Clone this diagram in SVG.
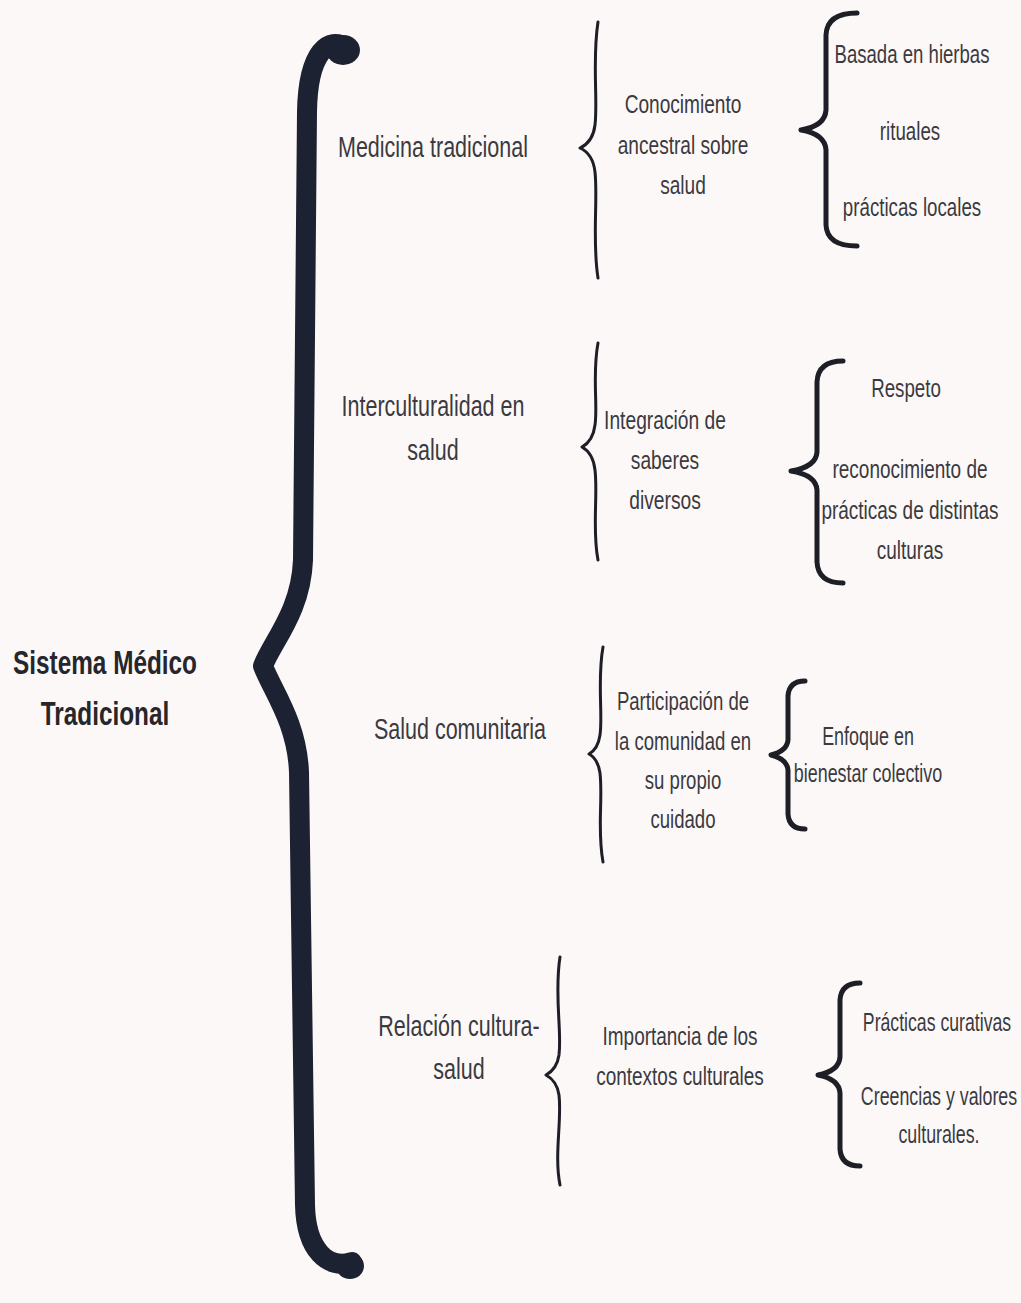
<svg xmlns="http://www.w3.org/2000/svg" width="1021" height="1303" viewBox="0 0 1021 1303">
<style>
text{font-family:"Liberation Sans",Arial,sans-serif;fill:#3a3a3f;text-anchor:middle}
.t{font-size:34px;font-weight:bold;fill:#26262c}
.l1{font-size:30px}
.l2{font-size:26px}
.big{fill:none;stroke:#1c2232;stroke-width:20;stroke-linecap:round;stroke-linejoin:round}
.blob{fill:#1c2232}
.thin{fill:none;stroke:#1e1e26;stroke-width:3;stroke-linecap:round;stroke-linejoin:round}
.mid{fill:none;stroke:#1e1e26;stroke-width:5;stroke-linecap:round;stroke-linejoin:round}
</style>
<rect width="1021" height="1303" fill="#fdf8f8"/>
<g id="connectors">
<path class="big" d="M346,48 C330,36 308,50 307,112 L303,560 C301,612 272,642 263,666 C272,690 297,722 299,772 L305,1205 C306,1250 328,1270 352,1262"/>
<ellipse class="blob" cx="343" cy="50" rx="17" ry="15"/>
<ellipse class="blob" cx="350" cy="1266" rx="14" ry="13"/>
<path class="thin" d="M598,22 C592,60 598,100 595,125 Q593,142 580,148 Q593,154 595,172 C598,200 592,240 598,278"/>
<path class="thin" d="M598,343 C592,375 598,405 595,425 Q593,441 582,447 Q593,453 595,470 C598,495 592,530 598,560"/>
<path class="thin" d="M603,647 C597,680 603,715 600,735 Q598,749 589,754 Q598,759 600,773 C603,800 597,830 603,862"/>
<path class="thin" d="M560,957 C554,995 562,1030 559,1055 Q557,1069 546,1075 Q557,1081 559,1095 C562,1120 554,1155 560,1185"/>
<path class="mid" d="M857,13 Q827,13 826,35 L826,110 Q825,126 801,130 Q825,134 826,150 L826,225 Q827,246 857,246"/>
<path class="mid" d="M843,361 Q818,361 817,382 L817,452 Q816,467 791,471 Q816,475 817,490 L817,562 Q818,583 843,583"/>
<path class="mid" d="M805,681 Q789,681 788,696 L788,740 Q787,751 771,755 Q787,759 788,770 L788,814 Q789,829 805,829"/>
<path class="mid" d="M860,983 Q841,983 840,1000 L840,1057 Q839,1071 818,1075 Q839,1079 840,1093 L840,1149 Q841,1166 860,1166"/>
</g>
<g id="root" transform="translate(105,0) scale(0.716,1)">
<text class="t" x="0" y="674">Sistema Médico</text>
<text class="t" x="0" y="725">Tradicional</text>
</g>
<g id="n-medicina" transform="translate(433,0) scale(0.717,1)">
<text class="l1" x="0" y="157">Medicina tradicional</text>
</g>
<g id="n-intercultural" transform="translate(433,0) scale(0.717,1)">
<text class="l1" x="0" y="416">Interculturalidad en</text>
<text class="l1" x="0" y="460">salud</text>
</g>
<g id="n-comunitaria" transform="translate(460,0) scale(0.717,1)">
<text class="l1" x="0" y="739">Salud comunitaria</text>
</g>
<g id="n-relacion" transform="translate(459,0) scale(0.717,1)">
<text class="l1" x="0" y="1036">Relación cultura-</text>
<text class="l1" x="0" y="1079">salud</text>
</g>
<g id="n-conocimiento" transform="translate(683,0) scale(0.735,1)">
<text class="l2" x="0" y="113">Conocimiento</text>
<text class="l2" x="0" y="154">ancestral sobre</text>
<text class="l2" x="0" y="194">salud</text>
</g>
<g id="n-integracion" transform="translate(665,0) scale(0.74,1)">
<text class="l2" x="0" y="429">Integración de</text>
<text class="l2" x="0" y="469">saberes</text>
<text class="l2" x="0" y="509">diversos</text>
</g>
<g id="n-participacion" transform="translate(683,0) scale(0.715,1)">
<text class="l2" x="0" y="710">Participación de</text>
<text class="l2" x="0" y="750">la comunidad en</text>
<text class="l2" x="0" y="789">su propio</text>
<text class="l2" x="0" y="828">cuidado</text>
</g>
<g id="n-importancia" transform="translate(680,0) scale(0.73,1)">
<text class="l2" x="0" y="1045">Importancia de los</text>
<text class="l2" x="0" y="1085">contextos culturales</text>
</g>
<g id="n-basada" transform="translate(912,0) scale(0.715,1)"><text class="l2" x="0" y="63">Basada en hierbas</text></g>
<g id="n-rituales" transform="translate(910,0) scale(0.72,1)"><text class="l2" x="0" y="140">rituales</text></g>
<g id="n-practicas-locales" transform="translate(912,0) scale(0.72,1)"><text class="l2" x="0" y="216">prácticas locales</text></g>
<g id="n-respeto" transform="translate(906,0) scale(0.72,1)"><text class="l2" x="0" y="397">Respeto</text></g>
<g id="n-reconocimiento" transform="translate(910,0) scale(0.73,1)">
<text class="l2" x="0" y="478">reconocimiento de</text>
<text class="l2" x="0" y="519">prácticas de distintas</text>
<text class="l2" x="0" y="559">culturas</text>
</g>
<g id="n-enfoque" transform="translate(868,0) scale(0.69,1)">
<text class="l2" x="0" y="745">Enfoque en</text>
<text class="l2" x="0" y="782">bienestar colectivo</text>
</g>
<g id="n-curativas" transform="translate(937,0) scale(0.68,1)"><text class="l2" x="0" y="1031">Prácticas curativas</text></g>
<g id="n-creencias" transform="translate(939,0) scale(0.685,1)">
<text class="l2" x="0" y="1105">Creencias y valores</text>
<text class="l2" x="0" y="1143">culturales.</text>
</g>
</svg>
